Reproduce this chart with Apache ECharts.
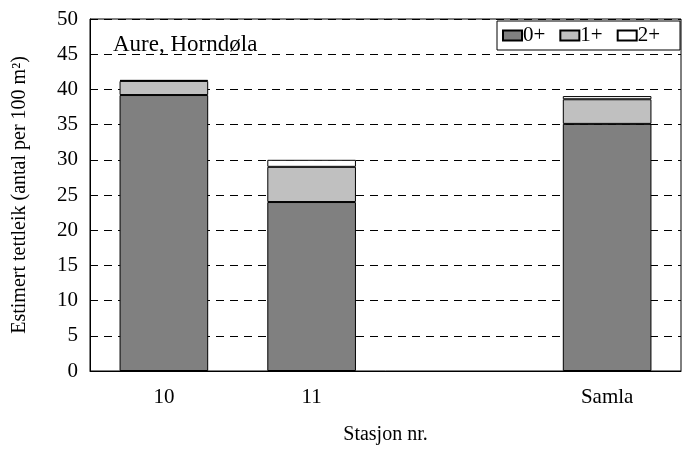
<!DOCTYPE html>
<html><head><meta charset="utf-8">
<script src="https://cdn.jsdelivr.net/npm/echarts@6/dist/echarts.min.js"></script>
<style>html,body{margin:0;padding:0;background:#fff}#c{width:682px;height:450px}</style>
</head><body><div id="c"></div>
<script>
const categories = ['10', '11', '', 'Samla'];
const age0 = [39.2, 24.0, null, 35.1];
const age1 = [2.0, 5.0, null, 3.5];
const age2 = [0.15, 1.0, null, 0.45];
const yTicks = [0, 5, 10, 15, 20, 25, 30, 35, 40, 45, 50];
const seriesNames = ['0+', '1+', '2+'];
const seriesColors = ['#808080', '#c0c0c0', '#ffffff'];

const F = 'Liberation Serif, Times New Roman, serif';
const chart = echarts.init(document.getElementById('c'), null, {renderer: 'canvas'});
const datas = [age0, age1, age2];
chart.setOption({
  animation: false,
  backgroundColor: '#fff',
  grid: {left: 90, right: 1, top: 19, bottom: 74, show: true, borderColor: '#000', borderWidth: 1},
  title: {text: 'Aure, Horndøla', left: 108, top: 28,
    textStyle: {fontFamily: F, fontSize: 23, fontWeight: 'normal', color: '#000'}},
  legend: {
    data: seriesNames, left: 497, top: 21, orient: 'horizontal',
    itemWidth: 19, itemHeight: 10, itemGap: 14, padding: [4, 20, 4, 5],
    borderColor: '#000', borderWidth: 1, backgroundColor: '#fff',
    icon: 'rect',
    textStyle: {fontFamily: F, fontSize: 21, color: '#000', padding: [0, 0, 0, -4]}
  },
  xAxis: {
    type: 'category', data: categories,
    name: 'Stasjon nr.', nameLocation: 'middle', nameGap: 54,
    nameTextStyle: {fontFamily: F, fontSize: 20, color: '#000'},
    axisLine: {lineStyle: {color: '#000'}},
    axisTick: {alignWithLabel: true, length: 8, lineStyle: {color: '#000'}},
    axisLabel: {fontFamily: F, fontSize: 21, color: '#000', margin: 16},
    splitLine: {show: false}
  },
  yAxis: {
    type: 'value', min: yTicks[0], max: yTicks[yTicks.length - 1], interval: 5,
    name: 'Estimert tettleik (antal per 100 m²)', nameLocation: 'middle', nameGap: 60,
    nameTextStyle: {fontFamily: F, fontSize: 20, color: '#000'},
    axisLine: {show: true, lineStyle: {color: '#000'}},
    axisTick: {show: true, inside: true, length: 6, lineStyle: {color: '#000'}},
    axisLabel: {fontFamily: F, fontSize: 21, color: '#000', margin: 12},
    splitLine: {show: true, lineStyle: {color: '#000', type: [8, 6], width: 1}}
  },
  series: seriesNames.map((n, i) => ({
    name: n, type: 'bar', stack: 's', barWidth: '60%',
    data: datas[i].map(v => v === null ? '-' : v),
    itemStyle: {color: seriesColors[i], borderColor: '#000', borderWidth: 1}
  }))
});
</script></body></html>
